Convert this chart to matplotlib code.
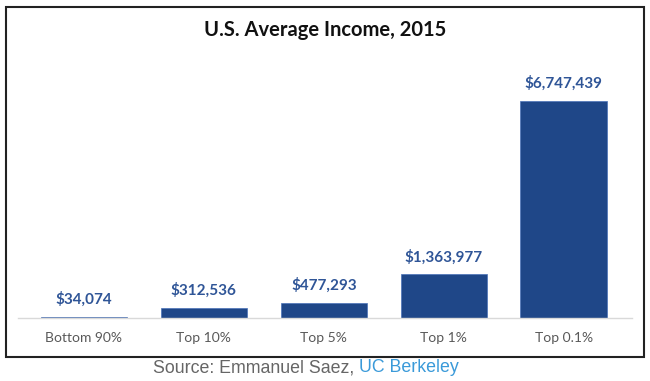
import matplotlib.pyplot as plt
from matplotlib.patches import Rectangle

groups = ["Bottom 90%", "Top 10%", "Top 5%", "Top 1%", "Top 0.1%"]
income = [34074, 312536, 477293, 1363977, 6747439]

bar_color = "#1f4788"
label_color = "#2f5597"

fig = plt.figure(figsize=(6.5, 3.81), dpi=100)
ax = fig.add_axes([18 / 650, 63 / 381, 614 / 650, 258 / 381])

x = list(range(len(groups)))
ax.bar(x, income, width=0.72, color=bar_color, edgecolor="#4a72b8", linewidth=0.5)
for xi, v in zip(x, income):
    ax.text(xi, v + 300000, "${:,}".format(v), ha="center", va="bottom",
            fontsize=11, fontweight="bold", color=label_color, family="Lato")

ax.set_xlim(-0.55, 4.57)
ax.set_ylim(0, 8.02e6)
ax.set_xticks(x)
ax.set_xticklabels(groups, fontsize=10, color="#595959", family="Lato")
ax.tick_params(axis="x", length=0, pad=10)
ax.set_yticks([])
for s in ["top", "right", "left"]:
    ax.spines[s].set_visible(False)
ax.spines["bottom"].set_color("#d9d9d9")
ax.spines["bottom"].set_linewidth(1)

# outer frame
fig.patches.append(Rectangle((6 / 650, 1 - 357 / 381), 638 / 650, 350 / 381,
                             transform=fig.transFigure, fill=False,
                             edgecolor="#222222", linewidth=1.5))

fig.text(0.5, 1 - 30 / 381, "U.S. Average Income, 2015", ha="center", va="center",
         fontsize=14.5, fontweight="bold", color="#111111", family="Lato")

# source line, two colours
src = fig.text(153 / 650, 1 - 368 / 381, "Source: Emmanuel Saez, ", ha="left", va="center",
               fontsize=12.8, color="#666666", family="Liberation Sans")
fig.canvas.draw()
bb = src.get_window_extent()
fig.text(bb.x1 / 650, 1 - 368 / 381, "UC Berkeley", ha="left", va="center",
         fontsize=12.8, color="#3a9ad9", family="Liberation Sans")

fig.savefig("out.png", dpi=100)
